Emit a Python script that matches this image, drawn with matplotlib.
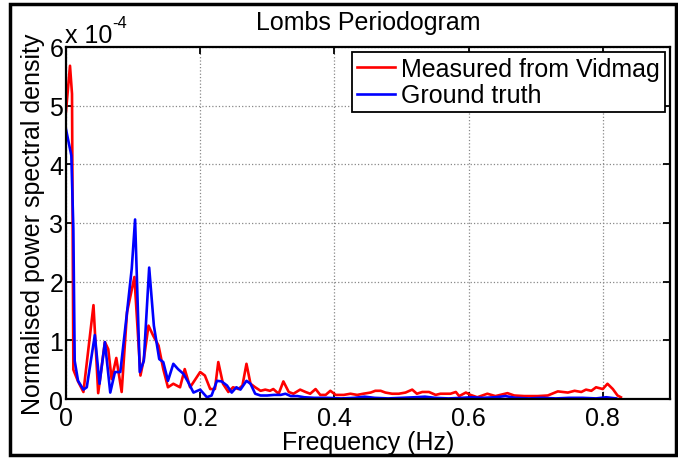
import numpy as np
import matplotlib
matplotlib.use('Agg')
import matplotlib.pyplot as plt
from matplotlib.patches import Rectangle

plt.rcParams['font.family'] = ['Liberation Sans', 'DejaVu Sans']
plt.rcParams['font.size'] = 18

# Lomb periodogram estimates, PSD in units of 1e-4
freq_vidmag = [0.000, 0.006, 0.009, 0.011, 0.018, 0.026, 0.041, 0.048, 0.058, 0.063,
               0.068, 0.075, 0.083, 0.091, 0.096, 0.102, 0.111, 0.116, 0.123, 0.130,
               0.138, 0.145, 0.152, 0.160, 0.170, 0.177, 0.185, 0.200, 0.207, 0.215,
               0.222, 0.227, 0.234, 0.242, 0.249, 0.257, 0.263, 0.269, 0.275, 0.282,
               0.290, 0.297, 0.304, 0.309, 0.317, 0.324, 0.332, 0.339, 0.349, 0.357,
               0.364, 0.372, 0.379, 0.387, 0.394, 0.402, 0.414, 0.424, 0.434, 0.443,
               0.454, 0.461, 0.469, 0.476, 0.486, 0.496, 0.506, 0.516, 0.523, 0.531,
               0.541, 0.551, 0.558, 0.566, 0.573, 0.581, 0.586, 0.596, 0.603, 0.613,
               0.628, 0.640, 0.658, 0.668, 0.683, 0.703, 0.718, 0.733, 0.748, 0.758,
               0.768, 0.775, 0.783, 0.790, 0.800, 0.807, 0.815, 0.822, 0.827]
psd_vidmag = [4.90, 5.68, 5.20, 0.50, 0.30, 0.12, 1.60, 0.10, 0.97, 0.85,
              0.34, 0.70, 0.12, 1.48, 1.75, 2.08, 0.40, 0.68, 1.25, 1.08,
              0.91, 0.51, 0.20, 0.26, 0.20, 0.51, 0.20, 0.46, 0.40, 0.17,
              0.17, 0.63, 0.26, 0.12, 0.20, 0.17, 0.23, 0.60, 0.26, 0.20,
              0.14, 0.16, 0.14, 0.17, 0.09, 0.30, 0.12, 0.09, 0.16, 0.12,
              0.09, 0.17, 0.07, 0.07, 0.14, 0.07, 0.07, 0.09, 0.07, 0.09,
              0.11, 0.14, 0.14, 0.11, 0.09, 0.09, 0.11, 0.16, 0.09, 0.12,
              0.12, 0.07, 0.09, 0.09, 0.09, 0.12, 0.05, 0.11, 0.07, 0.03,
              0.09, 0.05, 0.10, 0.06, 0.05, 0.05, 0.06, 0.13, 0.11, 0.14,
              0.12, 0.16, 0.14, 0.20, 0.17, 0.26, 0.17, 0.06, 0.03]

freq_truth = [0.000, 0.008, 0.011, 0.013, 0.018, 0.026, 0.031, 0.043, 0.050, 0.058,
              0.066, 0.073, 0.081, 0.091, 0.098, 0.103, 0.110, 0.116, 0.124, 0.131,
              0.139, 0.145, 0.152, 0.160, 0.167, 0.175, 0.182, 0.190, 0.200, 0.210,
              0.217, 0.225, 0.232, 0.240, 0.247, 0.254, 0.260, 0.269, 0.275, 0.282,
              0.290, 0.300, 0.310, 0.320, 0.327, 0.335, 0.345, 0.355, 0.370, 0.390,
              0.410, 0.430, 0.445, 0.460, 0.480, 0.500, 0.520, 0.535, 0.550, 0.570,
              0.590, 0.605, 0.620, 0.640, 0.655, 0.670, 0.690, 0.710, 0.730, 0.750,
              0.770, 0.790, 0.805, 0.820]
psd_truth = [4.60, 4.15, 2.90, 0.65, 0.31, 0.16, 0.20, 1.09, 0.26, 0.97,
             0.11, 0.46, 0.46, 1.48, 2.22, 3.06, 0.46, 0.65, 2.24, 1.25,
             0.68, 0.63, 0.31, 0.60, 0.51, 0.43, 0.29, 0.11, 0.16, 0.03,
             0.06, 0.31, 0.30, 0.23, 0.11, 0.20, 0.16, 0.31, 0.26, 0.09,
             0.06, 0.06, 0.07, 0.07, 0.09, 0.05, 0.05, 0.03, 0.02, 0.02,
             0.01, 0.02, 0.04, 0.02, 0.01, 0.02, 0.03, 0.04, 0.02, 0.01,
             0.02, 0.03, 0.02, 0.03, 0.05, 0.02, 0.01, 0.02, 0.01, 0.02,
             0.02, 0.01, 0.03, 0.01]

fig = plt.figure(figsize=(6.78, 4.6), dpi=100)
ax = fig.add_axes([0.0973, 0.1304, 0.8907, 0.7653])

ax.plot(freq_vidmag, psd_vidmag, color='red', lw=1.9, label='Measured from Vidmag')
ax.plot(freq_truth, psd_truth, color='blue', lw=1.9, label='Ground truth')

ax.set_xlim(0, 0.9)
ax.set_ylim(0, 6)
ax.set_xticks([0, 0.2, 0.4, 0.6, 0.8])
ax.set_xticklabels(['0', '0.2', '0.4', '0.6', '0.8'])
ax.set_yticks(range(7))
ax.grid(True, linestyle=':', color='#888888', lw=0.9)
ax.tick_params(direction='in', top=True, right=True, length=5, width=1.3,
               labelsize=18)
ax.tick_params(axis='x', pad=5)
ax.tick_params(axis='y', pad=2)
for s in ax.spines.values():
    s.set_linewidth(1.6)

ax.set_xlabel('Frequency (Hz)', fontsize=18, labelpad=0)
ax.set_ylabel('Normalised power spectral density', fontsize=18, labelpad=3)
ax.set_title('Lombs Periodogram', fontsize=18, pad=13)

# exponent label in the MATLAB style
ax.text(-0.002, 1.014, 'x 10', transform=ax.transAxes, fontsize=18,
        ha='left', va='baseline')
ax.text(0.076, 1.057, '-4', transform=ax.transAxes, fontsize=12,
        ha='left', va='baseline')

leg = ax.legend(loc='upper right', fontsize=18, fancybox=False,
                edgecolor='black', framealpha=1, borderpad=0.2,
                labelspacing=0.1, handlelength=1.5, handletextpad=0.25,
                borderaxespad=0.2)
leg.get_frame().set_linewidth(1.3)

# outer border round the whole figure
fig.patches.append(Rectangle((10 / 678, 4 / 460), 666 / 678, 451 / 460,
                             transform=fig.transFigure, fill=False,
                             edgecolor='black', lw=2.5))

fig.savefig('out.png', dpi=100)
